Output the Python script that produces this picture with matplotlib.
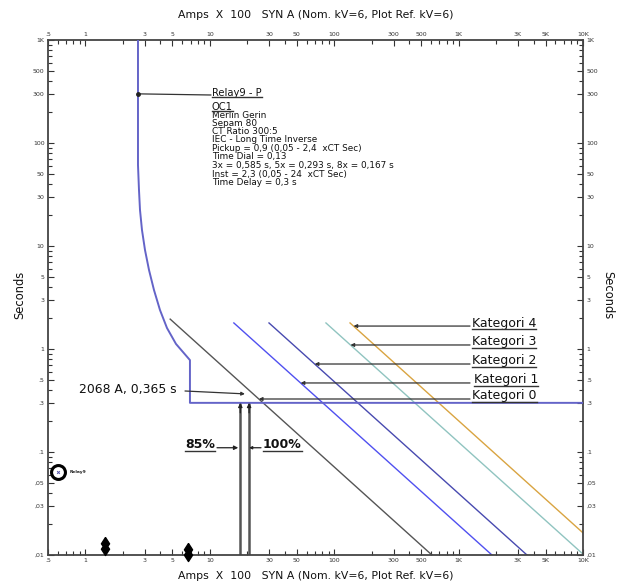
import numpy as np
import matplotlib
matplotlib.use('Agg')
import matplotlib.pyplot as plt
from matplotlib.lines import Line2D
from matplotlib.ticker import FixedLocator, FixedFormatter, NullFormatter
from matplotlib.transforms import blended_transform_factory
from matplotlib.path import Path

plt.rcParams['font.family'] = ['DejaVu Sans']

# ---------------- data ----------------
relay_amps = [2.645, 2.645, 2.694, 2.745, 2.848, 3.011, 3.243, 3.556, 3.974, 4.523, 5.344,
              6.92, 6.92, 10000]
relay_secs = [1000, 61.2, 35.0, 22.4, 14.3, 9.15, 5.85, 3.74, 2.39, 1.60, 1.12,
              0.78, 0.3, 0.3]

categories = ['Kategori 0', 'Kategori 1', 'Kategori 2', 'Kategori 3', 'Kategori 4']
cat_amps = [[4.8, 610], [15.6, 1853], [29.9, 3544], [85.8, 10000], [134, 10000]]
cat_secs = [[1.95, 0.01], [1.79, 0.01], [1.79, 0.01], [1.79, 0.0102], [1.79, 0.0164]]
cat_colors = ['#555555', '#5050f0', '#484ab0', '#90c4c0', '#d9a441']
cat_label_secs = [0.327, 0.468, 0.715, 1.094, 1.67]

pct_labels = ['85%', '100%']
pct_amps = [17.58, 20.68]
pct_top = 0.3
pct_arrow_secs = 0.11

point_amps, point_secs = 20.68, 0.365
point_label = '2068 A, 0,365 s'

relay_icon = (0.602, 0.064)
small_marks_amps = [1.44, 6.67]
small_marks_secs = [0.0122, 0.0107]

relay_info = ['Merlin Gerin', 'Sepam 80', 'CT Ratio 300:5', 'IEC - Long Time Inverse',
              'Pickup = 0,9 (0,05 - 2,4  xCT Sec)', 'Time Dial = 0,13',
              '3x = 0,585 s, 5x = 0,293 s, 8x = 0,167 s',
              'Inst = 2,3 (0,05 - 24  xCT Sec)', 'Time Delay = 0,3 s']

x_ticks = [0.5, 1, 3, 5, 10, 30, 50, 100, 300, 500, 1000, 3000, 5000, 10000]
x_ticklabels = ['.5', '1', '3', '5', '10', '30', '50', '100', '300', '500', '1K', '3K', '5K', '10K']
y_ticks = [0.01, 0.03, 0.05, 0.1, 0.3, 0.5, 1, 3, 5, 10, 30, 50, 100, 300, 500, 1000]
y_ticklabels = [',01', ',03', ',05', '.1', '.3', '.5', '1', '3', '5', '10', '30', '50', '100', '300', '500', '1K']

axis_title = 'Amps  X  100   SYN A (Nom. kV=6, Plot Ref. kV=6)'

# ---------------- figure ----------------
W, H = 621, 585
L, R, T, B = 48, 583, 40, 555
fig = plt.figure(figsize=(W / 100, H / 100), dpi=100)
ax = fig.add_axes([L / W, 1 - B / H, (R - L) / W, (B - T) / H])
ax.set_xscale('log')
ax.set_yscale('log')
ax.set_xlim(0.5, 10000)
ax.set_ylim(0.01, 1000)


def axf(x, y):
    return ((x - L) / (R - L), (B - y) / (B - T))


minor_x = [m * 10 ** e for e in range(-1, 4) for m in range(1, 10)]
minor_x = [v for v in minor_x if 0.5 <= v <= 10000]
minor_y = [m * 10 ** e for e in range(-2, 3) for m in range(1, 10)]
ax.xaxis.set_major_locator(FixedLocator(x_ticks))
ax.xaxis.set_major_formatter(FixedFormatter(x_ticklabels))
ax.xaxis.set_minor_locator(FixedLocator(minor_x))
ax.xaxis.set_minor_formatter(NullFormatter())
ax.yaxis.set_major_locator(FixedLocator(y_ticks))
ax.yaxis.set_major_formatter(FixedFormatter(y_ticklabels))
ax.yaxis.set_minor_locator(FixedLocator(minor_y))
ax.yaxis.set_minor_formatter(NullFormatter())
ax.tick_params(which='both', direction='in', top=True, right=True, labeltop=True,
               labelright=True, labelsize=4.5, labelcolor='#333333', color='#333333',
               width=0.8, pad=2.5)
ax.tick_params(which='major', length=4)
ax.tick_params(which='minor', length=3)
for s in ax.spines.values():
    s.set_color('#444444')
    s.set_linewidth(1.3)

# relay curve
ax.plot(relay_amps, relay_secs, color='#6464c8', lw=1.4, zorder=3)

# category lines
for a, s, c in zip(cat_amps, cat_secs, cat_colors):
    ax.plot(a, s, color=c, lw=1.0, zorder=2)

blend = blended_transform_factory(ax.transAxes, ax.transData)
underlined = []


def amps_at(a, s, t):
    la, ls = np.log10(a), np.log10(s)
    f = (np.log10(t) - ls[0]) / (ls[1] - ls[0])
    return 10 ** (la[0] + f * (la[1] - la[0]))


for name, a, s, t in zip(categories, cat_amps, cat_secs, cat_label_secs):
    xa = amps_at(a, s, t)
    ax.annotate('', xy=(xa, t), xycoords='data', xytext=(axf(470, 0)[0], t),
                textcoords=blend,
                arrowprops=dict(arrowstyle='-|>', lw=0.9, color='#333333',
                                mutation_scale=5, shrinkA=0, shrinkB=0))
    xt = axf(474 if name.endswith('1') else 472, 0)[0]
    txt = ax.annotate(name, xy=(xt, t), xycoords=blend, xytext=(0, 2.2),
                      textcoords='offset points', va='center', ha='left',
                      fontsize=9.0, color='#111111')
    underlined.append(txt)

# 2068 A point annotation
ax.annotate('', xy=(point_amps, point_secs), xycoords='data',
            xytext=axf(185, 391), textcoords='axes fraction',
            arrowprops=dict(arrowstyle='-|>', lw=0.9, color='#333333',
                            mutation_scale=5, shrinkA=0, shrinkB=3))
ax.text(*axf(177, 390), point_label, transform=ax.transAxes, ha='right', va='center',
        fontsize=8.9, color='#111111')

# 85% / 100% vertical lines
for a in pct_amps:
    ax.plot([a, a], [0.01, pct_top * 0.97], color='#555555', lw=1.8, zorder=2)
    ax.annotate('', xy=(a, pct_top), xycoords='data', xytext=(a, pct_top * 0.8),
                arrowprops=dict(arrowstyle='-|>', lw=0.9, color='#222222',
                                mutation_scale=6, shrinkA=0, shrinkB=0))
ax.annotate('', xy=(pct_amps[0], pct_arrow_secs), xycoords='data',
            xytext=(axf(217, 0)[0], pct_arrow_secs), textcoords=blend,
            arrowprops=dict(arrowstyle='-|>', lw=0.9, color='#222222',
                            mutation_scale=6, shrinkA=0, shrinkB=1.5))
ax.annotate('', xy=(pct_amps[1], pct_arrow_secs), xycoords='data',
            xytext=(axf(261, 0)[0], pct_arrow_secs), textcoords=blend,
            arrowprops=dict(arrowstyle='-|>', lw=0.9, color='#222222',
                            mutation_scale=4, shrinkA=0, shrinkB=0))
t85 = ax.annotate(pct_labels[0], xy=(axf(185, 0)[0], pct_arrow_secs), xycoords=blend,
                  xytext=(0, 2.2), textcoords='offset points', va='center', ha='left',
                  fontsize=9, fontweight='bold', color='#111111')
t100 = ax.annotate(pct_labels[1], xy=(axf(263, 0)[0], pct_arrow_secs), xycoords=blend,
                   xytext=(0, 2.2), textcoords='offset points', va='center', ha='left',
                   fontsize=9, fontweight='bold', color='#111111')
underlined += [t85, t100]

# relay label block
ax.plot([relay_amps[0]], [300], marker='o', ms=2.5, color='#222222', zorder=4)
ax.annotate('', xy=(relay_amps[0], 300), xycoords='data',
            xytext=axf(211, 95), textcoords='axes fraction',
            arrowprops=dict(arrowstyle='-', lw=0.9, color='#333333', shrinkA=0, shrinkB=0))
tr = ax.text(*axf(212, 92.7), 'Relay9 - P', transform=ax.transAxes, ha='left', va='center',
             fontsize=7.2, color='#111111')
to = ax.text(*axf(212, 106.5), 'OC1', transform=ax.transAxes, ha='left', va='center',
             fontsize=7.2, color='#111111')
underlined += [tr, to]
info_y = [116, 123.5, 131.7, 140, 148.3, 156.7, 165.5, 174, 182.5]
for line, yy in zip(relay_info, info_y):
    ax.text(*axf(212, yy), line, transform=ax.transAxes, ha='left', va='center',
            fontsize=6.4, color='#111111')

# relay icon
ax.plot([relay_icon[0]], [relay_icon[1]], marker='o', ms=10, mfc='white', mec='black',
        mew=2.2, zorder=5, clip_on=False)
ax.plot([relay_icon[0]], [relay_icon[1]], marker='x', ms=2, color='#5555aa', mew=0.7, zorder=6,
        clip_on=False)
ax.text(*axf(70, 472), 'Relay9', transform=ax.transAxes, ha='left', va='center',
        fontsize=3.2, fontweight='bold', color='#222222')

# small bottom markers
mk = Path([(0, 1), (0.45, 0.3), (0.25, 0), (0.45, -0.3), (0, -1), (-0.45, -0.3),
           (-0.25, 0), (-0.45, 0.3), (0, 1)])
ax.plot(small_marks_amps, small_marks_secs, linestyle='none', marker=mk, ms=13,
        color='black', zorder=5, clip_on=False)

# axis titles
fig.text(316 / W, 1 - 15 / H, axis_title, ha='center', va='center', fontsize=7.8, color='#111111')
fig.text(316 / W, 1 - 576 / H, axis_title, ha='center', va='center', fontsize=7.8, color='#111111')
fig.text(20 / W, 1 - 295 / H, 'Seconds', ha='center', va='center', rotation=90, fontsize=8.3,
         color='#111111')
fig.text(608 / W, 1 - 295 / H, 'Seconds', ha='center', va='center', rotation=270, fontsize=8.3,
         color='#111111')

# underlines
fig.canvas.draw()
rend = fig.canvas.get_renderer()
inv = fig.transFigure.inverted()
for t in underlined:
    bb = t.get_window_extent(rend)
    p0 = inv.transform((bb.x0, bb.y0 + 0.5))
    p1 = inv.transform((bb.x1, bb.y0 + 0.5))
    fig.add_artist(Line2D([p0[0], p1[0]], [p0[1], p1[1]], color='#333333', lw=1.0,
                          transform=fig.transFigure))

fig.savefig('out.png', dpi=100)
